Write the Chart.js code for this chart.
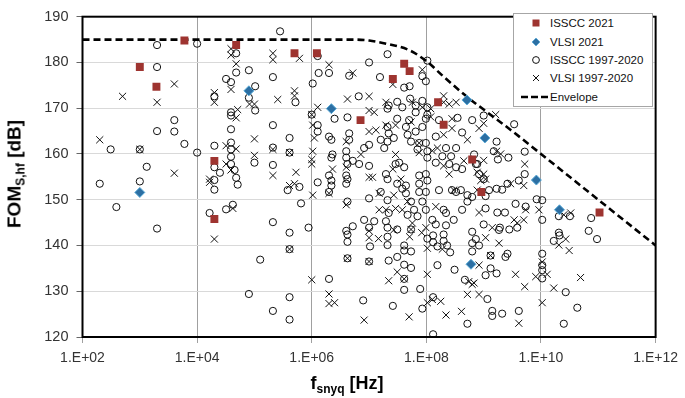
<!DOCTYPE html>
<html>
<head>
<meta charset="utf-8">
<script src="https://cdn.jsdelivr.net/npm/chart.js@4.4.1/dist/chart.umd.min.js"></script>
<style>
html,body{margin:0;padding:0;background:#fff;}
#wrap{position:relative;width:685px;height:398px;overflow:hidden;font-family:'Liberation Sans',Arial,sans-serif;color:#000;}
#c{position:absolute;left:0;top:0;}
.title{position:absolute;font-weight:bold;white-space:nowrap;line-height:1;}
.title sub{font-size:12px;vertical-align:baseline;position:relative;top:4px;}
#ytitle{left:13.5px;top:174px;font-size:19px;transform:translate(-50%,-50%) rotate(-90deg);}
#xtitle{left:347px;top:382.5px;font-size:18px;transform:translate(-50%,-50%);}
#legend{position:absolute;left:513px;top:13px;width:140px;height:94px;box-sizing:border-box;border:1px solid #a6a6a6;background:#fff;font-size:11.5px;}
#legend .lt{position:absolute;line-height:14px;height:14px;white-space:nowrap;color:#111;}
#legend svg{position:absolute;}
</style>
</head>
<body>
<div id="wrap">
<canvas id="c" width="685" height="398"></canvas>
<div class="title" id="ytitle">FOM<sub>S,hf</sub> [dB]</div>
<div class="title" id="xtitle">f<sub>snyq</sub> [Hz]</div>
<div id="legend"></div>
</div>
<script>
// ---------- DATA ----------
const seriesLabels = ['ISSCC 2021', 'VLSI 2021', 'ISSCC 1997-2020', 'VLSI 1997-2020', 'Envelope'];
const xTicks = [1e2, 1e4, 1e6, 1e8, 1e10, 1e12];
const yTicks = [120, 130, 140, 150, 160, 170, 180, 190];

// [f_snyq (Hz), FOM_S,hf (dB)]
const isscc2021 = [
  [1.0e3,179.0],[1.95e3,174.7],[6.0e3,184.8],[4.8e4,183.8],[2.0e4,158.5],[2.0e4,145.8],
  [5.0e5,182.0],[1.23e6,182.0],[7.1e6,167.4],[2.6e7,176.4],[4.1e7,179.7],[5.1e7,178.1],
  [1.6e8,171.3],[2.0e8,166.4],[6.3e8,158.8],[9.1e8,151.7],[1.05e11,147.2]
];
const vlsi2021 = [
  [8.0e4,173.8],[1.0e3,151.6],[2.2e6,169.9],[5.1e8,171.8],[6.0e8,135.9],
  [1.05e9,163.5],[8.3e9,154.3],[2.1e10,147.8]
];
const isscc9720 = [
  [3.1e2,161.0],[2.0e2,153.5],[3.9e2,148.4],[2.0e3,183.8],[2.0e3,179.0],[1.0e4,184.1],[2.8e5,186.8],
  [4.8e4,182.0],[4.8e4,177.8],[3.2e4,176.4],[3.9e4,175.7],[8.0e4,178.3],[1.03e5,174.8],[2.0e4,172.6],
  [8.0e4,172.3],[1.03e5,169.5],[3.9e4,169.1],[3.9e4,168.4],[4.0e3,167.4],[2.1e5,176.8],[2.1e5,166.3],
  [4.0e3,164.9],[2.0e3,165.0],[1.0e3,161.0],[6.0e3,162.2],[1.0e4,160.3],[1.32e3,157.2],[1.0e3,154.0],
  [2.0e3,143.7],[2.0e4,161.8],[3.9e4,165.4],[3.9e4,162.5],[3.9e4,161.0],[3.9e4,159.4],[3.9e4,157.8],
  [2.0e4,157.1],[2.5e4,155.9],[2.0e4,154.3],[2.0e4,152.2],[4.5e4,156.5],[4.8e4,154.8],[5.1e4,153.3],
  [2.1e5,161.4],[1.0e5,158.1],[2.1e5,157.6],[1.65e4,147.1],[3.2e4,147.9],[4.2e4,148.9],[2.1e5,145.1],
  [1.26e5,136.9],[8.0e4,129.4],[2.1e5,125.7],[1.27e6,181.4],[1.32e6,177.7],[2.0e6,177.7],[1.04e6,175.4],
  [1.0e7,180.0],[2.1e7,181.8],[4.5e6,177.1],[1.55e7,176.8],[1.04e8,180.4],[8.5e7,177.0],[9.8e7,175.9],
  [4.1e7,174.5],[5.1e7,174.8],[5.2e5,171.3],[6.6e6,172.6],[5.2e7,172.1],[8.5e7,171.6],[3.1e7,171.4],
  [2.2e7,170.6],[2.1e7,169.9],[3.8e7,170.2],[6.5e7,170.6],[1.04e8,170.2],[6.5e7,169.1],[1.04e8,168.6],
  [1.66e8,167.4],[3.5e8,167.9],[6.3e8,167.4],[1.0e6,168.6],[4.2e6,168.0],[2.5e6,167.7],[3.1e7,167.7],
  [5.0e7,167.4],[1.27e6,166.3],[4.1e5,163.5],[1.27e6,164.9],[2.0e6,163.8],[2.2e6,163.1],[4.5e6,164.5],
  [4.5e6,163.1],[1.0e7,162.0],[8.2e6,161.3],[1.6e7,163.1],[1.84e7,161.3],[2.1e7,162.7],[2.7e7,163.5],
  [2.1e7,165.9],[2.2e7,164.5],[4.4e7,165.9],[4.7e7,164.2],[9.8e7,167.7],[8.5e7,165.9],[6.5e7,164.9],
  [4.2e8,164.7],[1.46e8,163.8],[9.8e7,162.4],[7.5e7,162.4],[5.4e7,162.7],[7.0e7,161.0],[1.04e8,160.6],
  [1.04e8,159.2],[2.2e8,161.3],[3.3e8,161.3],[1.9e8,159.5],[2.7e8,159.5],[1.46e8,158.1],[2.5e8,157.8],
  [4.2e8,156.7],[4.1e5,160.3],[3.8e5,152.1],[6.1e5,152.8],[6.5e5,149.2],[2.2e6,159.2],[2.3e6,159.9],
  [2.0e6,155.3],[2.2e6,154.2],[2.2e6,153.1],[4.0e6,160.6],[4.0e6,159.2],[4.2e6,157.8],[5.2e6,158.5],
  [6.7e6,157.8],[4.0e6,155.3],[4.2e6,154.5],[4.0e6,153.5],[1.27e6,153.8],[2.0e6,151.7],[4.2e6,149.6],
  [1.0e7,157.4],[1.0e7,150.3],[1.6e7,151.7],[1.97e7,155.6],[2.1e7,154.5],[2.1e7,149.9],[2.2e7,147.1],
  [2.9e7,157.8],[3.35e7,158.1],[4.1e7,157.1],[4.4e7,153.1],[3.8e7,152.4],[4.4e7,151.4],[3.1e7,153.5],
  [7.5e7,155.3],[9.8e7,155.6],[1.04e8,154.2],[7.5e7,153.5],[7.5e7,151.7],[9.8e7,151.7],[8.5e7,149.6],
  [5.4e7,149.6],[6.1e7,147.8],[4.7e7,146.7],[7.0e7,146.4],[9.8e7,147.8],[1.66e8,152.1],[2.8e8,152.1],
  [2.0e8,147.8],[2.2e8,147.1],[4.2e8,147.8],[6.3e8,150.6],[5.2e8,151.0],[5.2e8,149.6],[1.27e8,145.6],
  [3.0e8,145.6],[8.2e6,145.6],[1.23e7,145.3],[1.97e7,145.3],[2.1e7,143.9],[3.1e7,143.5],[4.0e6,143.2],
  [1.0e7,143.9],[4.0e8,152.1],[3.3e8,151.7],[1.46e8,144.6],[6.8e8,159.9],[7.3e8,157.8],[3.3e8,157.1],
  [4.1e5,142.8],[8.8e5,143.9],[5.2e6,144.2],[4.2e6,142.4],[4.2e6,140.8],[4.2e6,137.2],[1.0e7,136.5],
  [1.04e7,139.8],[2.1e7,141.9],[2.1e7,140.1],[5.4e7,143.5],[4.1e7,140.0],[4.1e7,138.9],[5.4e7,138.7],
  [2.2e7,136.7],[3.1e7,137.5],[4.1e7,135.8],[5.4e7,135.1],[4.1e7,132.7],[4.1e7,130.3],[7.8e7,130.5],
  [1.04e8,141.5],[1.31e8,142.2],[1.31e8,140.7],[1.56e8,139.8],[2.0e8,142.4],[2.0e8,141.0],[2.3e8,140.0],
  [2.6e8,138.5],[6.3e8,143.0],[6.3e8,140.5],[6.3e8,138.7],[3.1e8,134.7],[1.56e8,135.7],[4.7e8,132.5],
  [4.1e5,139.2],[4.1e5,128.7],[4.1e5,123.8],[2.0e6,132.7],[7.9e6,128.0],[2.6e7,126.8],[1.31e8,128.7],
  [8.5e7,126.2],[5.2e8,122.9],[1.31e8,120.6],[2.2e8,144.4],[1.0e9,168.4],[3.4e9,166.5],[1.68e9,162.7],
  [1.5e9,160.6],[1.77e9,158.8],[2.7e9,159.2],[5.2e9,160.5],[5.2e9,155.6],[4.1e9,154.2],[2.6e9,153.5],
  [1.68e9,152.4],[1.24e9,152.1],[2.1e9,152.2],[1.08e9,150.8],[1.08e9,148.1],[3.6e9,149.1],[5.4e9,148.5],
  [8.4e9,150.1],[1.05e10,149.9],[1.05e10,145.6],[1.73e9,147.2],[2.35e9,147.2],[2.05e10,146.4],[3.2e10,146.4],
  [7.5e10,146.0],[7.7e8,157.8],[8.3e8,155.6],[1.0e9,154.5],[1.0e9,144.6],[1.92e9,143.9],[2.8e9,143.5],
  [6.8e10,143.2],[2.05e10,142.8],[3.85e9,143.9],[1.85e9,143.4],[7.3e8,141.4],[8.3e8,140.0],[1.32e9,137.8],
  [2.6e9,138.2],[2.4e9,137.5],[1.32e9,135.0],[1.08e9,133.5],[1.68e9,133.9],[1.16e9,128.3],[1.41e9,125.7],
  [1.41e9,124.6],[2.1e9,125.1],[4.1e9,125.7],[1.05e10,138.2],[1.05e10,135.7],[1.05e10,132.8],[1.67e10,141.0],
  [2.1e10,142.2],[2.7e10,129.8],[4.3e10,126.4],[2.5e10,122.9],[9.5e10,141.4],[1.05e10,134.6]
];
const vlsi9720 = [
  [2.0e2,163.1],[5.0e2,172.6],[2.0e3,171.3],[4.0e3,175.3],[3.9e4,183.0],[3.9e4,181.6],[4.8e4,179.7],
  [3.9e4,174.1],[2.0e4,173.4],[2.0e4,171.3],[8.2e4,170.9],[1.0e5,170.9],[5.1e4,169.7],[2.1e5,182.0],
  [2.1e5,180.6],[2.55e5,171.9],[1.0e3,161.0],[4.0e3,155.8],[3.2e4,161.8],[4.8e4,161.1],[1.0e5,163.3],
  [1.0e5,159.7],[2.1e5,161.0],[2.1e5,155.3],[3.2e4,157.8],[3.9e4,156.5],[1.65e4,154.5],[1.65e4,153.8],
  [4.2e4,148.1],[4.8e4,167.9],[2.0e4,141.4],[6.1e5,180.9],[2.0e6,179.5],[5.2e6,177.7],[2.6e7,175.2],
  [8.5e7,178.4],[5.0e5,173.8],[5.0e5,172.7],[4.2e6,172.0],[1.0e7,172.6],[1.27e6,170.2],[1.0e7,169.5],
  [1.23e7,169.1],[1.97e7,171.3],[5.7e7,171.3],[8.5e7,170.2],[2.0e8,172.7],[2.0e8,171.3],[2.5e8,170.9],
  [3.3e8,171.3],[1.19e8,169.9],[2.8e8,167.7],[1.0e6,168.6],[1.04e6,166.3],[1.11e6,163.5],[1.04e6,160.6],
  [1.0e6,158.8],[1.0e6,157.8],[5.3e5,156.0],[4.1e5,153.1],[5.0e5,153.5],[1.04e6,151.0],[2.3e6,156.7],
  [2.0e6,151.4],[4.0e6,162.7],[4.0e6,157.1],[1.0e7,164.9],[1.32e7,165.2],[1.0e7,154.9],[1.97e7,166.3],
  [2.9e7,166.3],[5.4e7,167.0],[1.19e8,168.1],[7.5e7,162.4],[1.27e8,160.7],[1.56e8,161.3],[2.0e8,157.4],
  [2.5e8,155.6],[3.0e8,152.1],[5.2e8,163.1],[4.5e8,158.5],[2.9e7,159.9],[2.6e7,156.7],[3.6e7,154.5],
  [2.7e7,151.0],[2.9e7,148.1],[1.5e7,147.8],[1.5e7,151.4],[7.2e6,159.9],[1.15e7,154.9],[1.0e7,143.2],
  [3.8e7,147.8],[4.7e7,149.6],[5.7e7,144.9],[9.8e7,143.9],[1.46e8,148.5],[4.0e6,148.9],[1.97e7,147.8],
  [7.5e7,160.3],[2.8e8,165.6],[2.0e8,164.2],[1.0e7,141.7],[1.46e7,141.5],[2.7e7,143.4],[5.1e7,141.9],
  [8.3e7,142.8],[1.04e8,139.4],[1.9e8,139.2],[1.0e6,132.5],[2.0e6,129.4],[2.0e6,127.3],[2.5e6,127.5],
  [8.2e6,123.7],[2.2e7,132.3],[3.1e7,134.2],[1.04e8,133.7],[5.0e7,124.4],[1.04e8,127.5],[1.27e8,128.2],
  [1.78e8,127.8],[2.2e8,124.8],[4.1e8,125.6],[5.2e8,129.3],[5.5e8,132.1],[6.3e8,131.5],[8.3e8,129.3],
  [4.2e6,137.2],[1.0e7,136.5],[5.4e7,143.5],[4.1e7,132.7],[4.1e5,139.2],[1.32e9,137.8],[4.1e5,160.3],
  [1.62e9,168.6],[1.0e9,166.7],[8.3e8,165.6],[1.68e9,160.6],[1.98e9,160.0],[1.0e9,158.6],[5.2e9,157.8],
  [7.7e8,156.0],[1.0e9,155.6],[1.08e9,154.5],[8.9e8,154.2],[7.7e8,152.1],[2.95e9,153.5],[5.0e9,153.1],
  [8.3e8,147.2],[5.4e9,147.8],[9.2e9,147.8],[2.5e10,146.7],[3.3e10,147.1],[3.4e9,145.6],[5.0e9,145.6],
  [1.41e9,143.9],[3.85e9,144.9],[1.08e9,141.7],[1.85e9,140.5],[8.3e8,135.7],[3.6e9,133.7],[5.2e9,131.0],
  [8.1e9,133.2],[1.28e10,133.7],[1.05e10,136.4],[1.05e10,127.5],[1.67e10,130.7],[2.05e10,140.1],
  [2.7e10,141.4],[3.1e10,138.9],[4.9e10,133.0],[4.1e9,123.0],[6.8e8,131.8]
];
const envelope = [
  [1e2,185.0],[1e6,185.0],[5e6,185.0],[1e7,184.8],[2e7,184.1],[5e7,182.7],[1e8,180.3],
  [2e8,176.9],[5e8,172.6],[1e9,169.7],[3e9,165.2],[1e10,160.0],[1e11,150.0],[1e12,140.0]
];

// ---------- CHART ----------
const FONT = "'Liberation Sans', Arial, sans-serif";
const pts = arr => arr.map(([x, y]) => ({x, y}));
const fmtExp = v => { const e = Math.round(Math.log10(v)); return '1.E+' + String(e).padStart(2, '0'); };

const framePlugin = {
  id: 'frame',
  afterDatasetsDraw(chart) {
    const {ctx, chartArea: a} = chart;
    ctx.save();
    ctx.strokeStyle = '#000';
    ctx.lineWidth = 2;
    ctx.strokeRect(a.left, a.top, a.right - a.left, a.bottom - a.top);
    ctx.restore();
  }
};

const colors = {isscc21: '#9E3430', vlsi21: '#2C6FA3', vlsi21b: '#5AAAD6'};

new Chart(document.getElementById('c').getContext('2d'), {
  type: 'scatter',
  data: {
    datasets: [
      {label: seriesLabels[0], data: pts(isscc2021), pointStyle: 'rect', pointRadius: 5.6,
       backgroundColor: colors.isscc21, borderColor: colors.isscc21, borderWidth: 0},
      {label: seriesLabels[1], data: pts(vlsi2021), pointStyle: 'rectRot', pointRadius: 5,
       backgroundColor: colors.vlsi21, borderColor: colors.vlsi21b, borderWidth: 1},
      {label: seriesLabels[4], data: pts(envelope), showLine: true, pointRadius: 0,
       borderColor: '#000', borderWidth: 2.6, borderDash: [7, 4], cubicInterpolationMode: 'monotone', fill: false},
      {label: seriesLabels[2], data: pts(isscc9720), pointStyle: 'circle', pointRadius: 3.6,
       backgroundColor: 'rgba(0,0,0,0)', borderColor: '#111', borderWidth: 1},
      {label: seriesLabels[3], data: pts(vlsi9720), pointStyle: 'crossRot', pointRadius: 5,
       backgroundColor: '#111', borderColor: '#111', borderWidth: 1}
    ]
  },
  options: {
    responsive: false,
    animation: false,
    events: [],
    layout: {padding: {top: 9, right: 28, left: 0, bottom: 0}},
    plugins: {legend: {display: false}, tooltip: {enabled: false}},
    scales: {
      x: {
        type: 'logarithmic', min: 1e2, max: 1e12,
        afterBuildTicks: s => { s.ticks = xTicks.map(v => ({value: v})); },
        afterFit: s => { s.height = 61; },
        ticks: {callback: v => fmtExp(v), font: {size: 14, family: FONT}, color: '#333',
                padding: 7, maxRotation: 0, autoSkip: false},
        grid: {color: '#a0a0a0', lineWidth: 1, tickLength: 6, tickColor: '#a0a0a0'},
        border: {display: false}
      },
      y: {
        min: 120, max: 190,
        afterBuildTicks: s => { s.ticks = yTicks.map(v => ({value: v})); },
        afterFit: s => { s.width = 82.5; },
        ticks: {font: {size: 14.5, family: FONT}, color: '#333', padding: 8},
        grid: {color: '#d9d9d9', lineWidth: 1, tickLength: 6, tickColor: '#666'},
        border: {display: false}
      }
    }
  },
  plugins: [framePlugin]
});

// ---------- LEGEND (HTML) ----------
(function () {
  const lg = document.getElementById('legend');
  const rowsY = [8.7, 27.7, 46, 64.3, 82.7];
  const order = [0, 1, 2, 3, 4];
  const markers = [
    `<rect x="3.5" y="3.5" width="7" height="7" fill="${colors.isscc21}"/>`,
    `<polygon points="7,3 11,7 7,11 3,7" fill="${colors.vlsi21}" stroke="${colors.vlsi21b}" stroke-width="0.8"/>`,
    `<circle cx="7" cy="7" r="3.4" fill="none" stroke="#111" stroke-width="1"/>`,
    `<path d="M4,4 L10,10 M10,4 L4,10" stroke="#111" stroke-width="1"/>`
  ];
  order.forEach((si, i) => {
    const cy = rowsY[i];
    if (si < 4) {
      lg.insertAdjacentHTML('beforeend',
        `<svg width="14" height="14" style="left:${22 - 7}px;top:${cy - 7}px">${markers[si]}</svg>` +
        `<div class="lt" style="left:36px;top:${cy - 7}px">${seriesLabels[si]}</div>`);
    } else {
      lg.insertAdjacentHTML('beforeend',
        `<svg width="30" height="6" style="left:7px;top:${cy - 3}px"><line x1="0" y1="3" x2="29" y2="3" stroke="#000" stroke-width="2.6" stroke-dasharray="7,3"/></svg>` +
        `<div class="lt" style="left:36px;top:${cy - 7}px">${seriesLabels[si]}</div>`);
    }
  });
})();
</script>
</body>
</html>
